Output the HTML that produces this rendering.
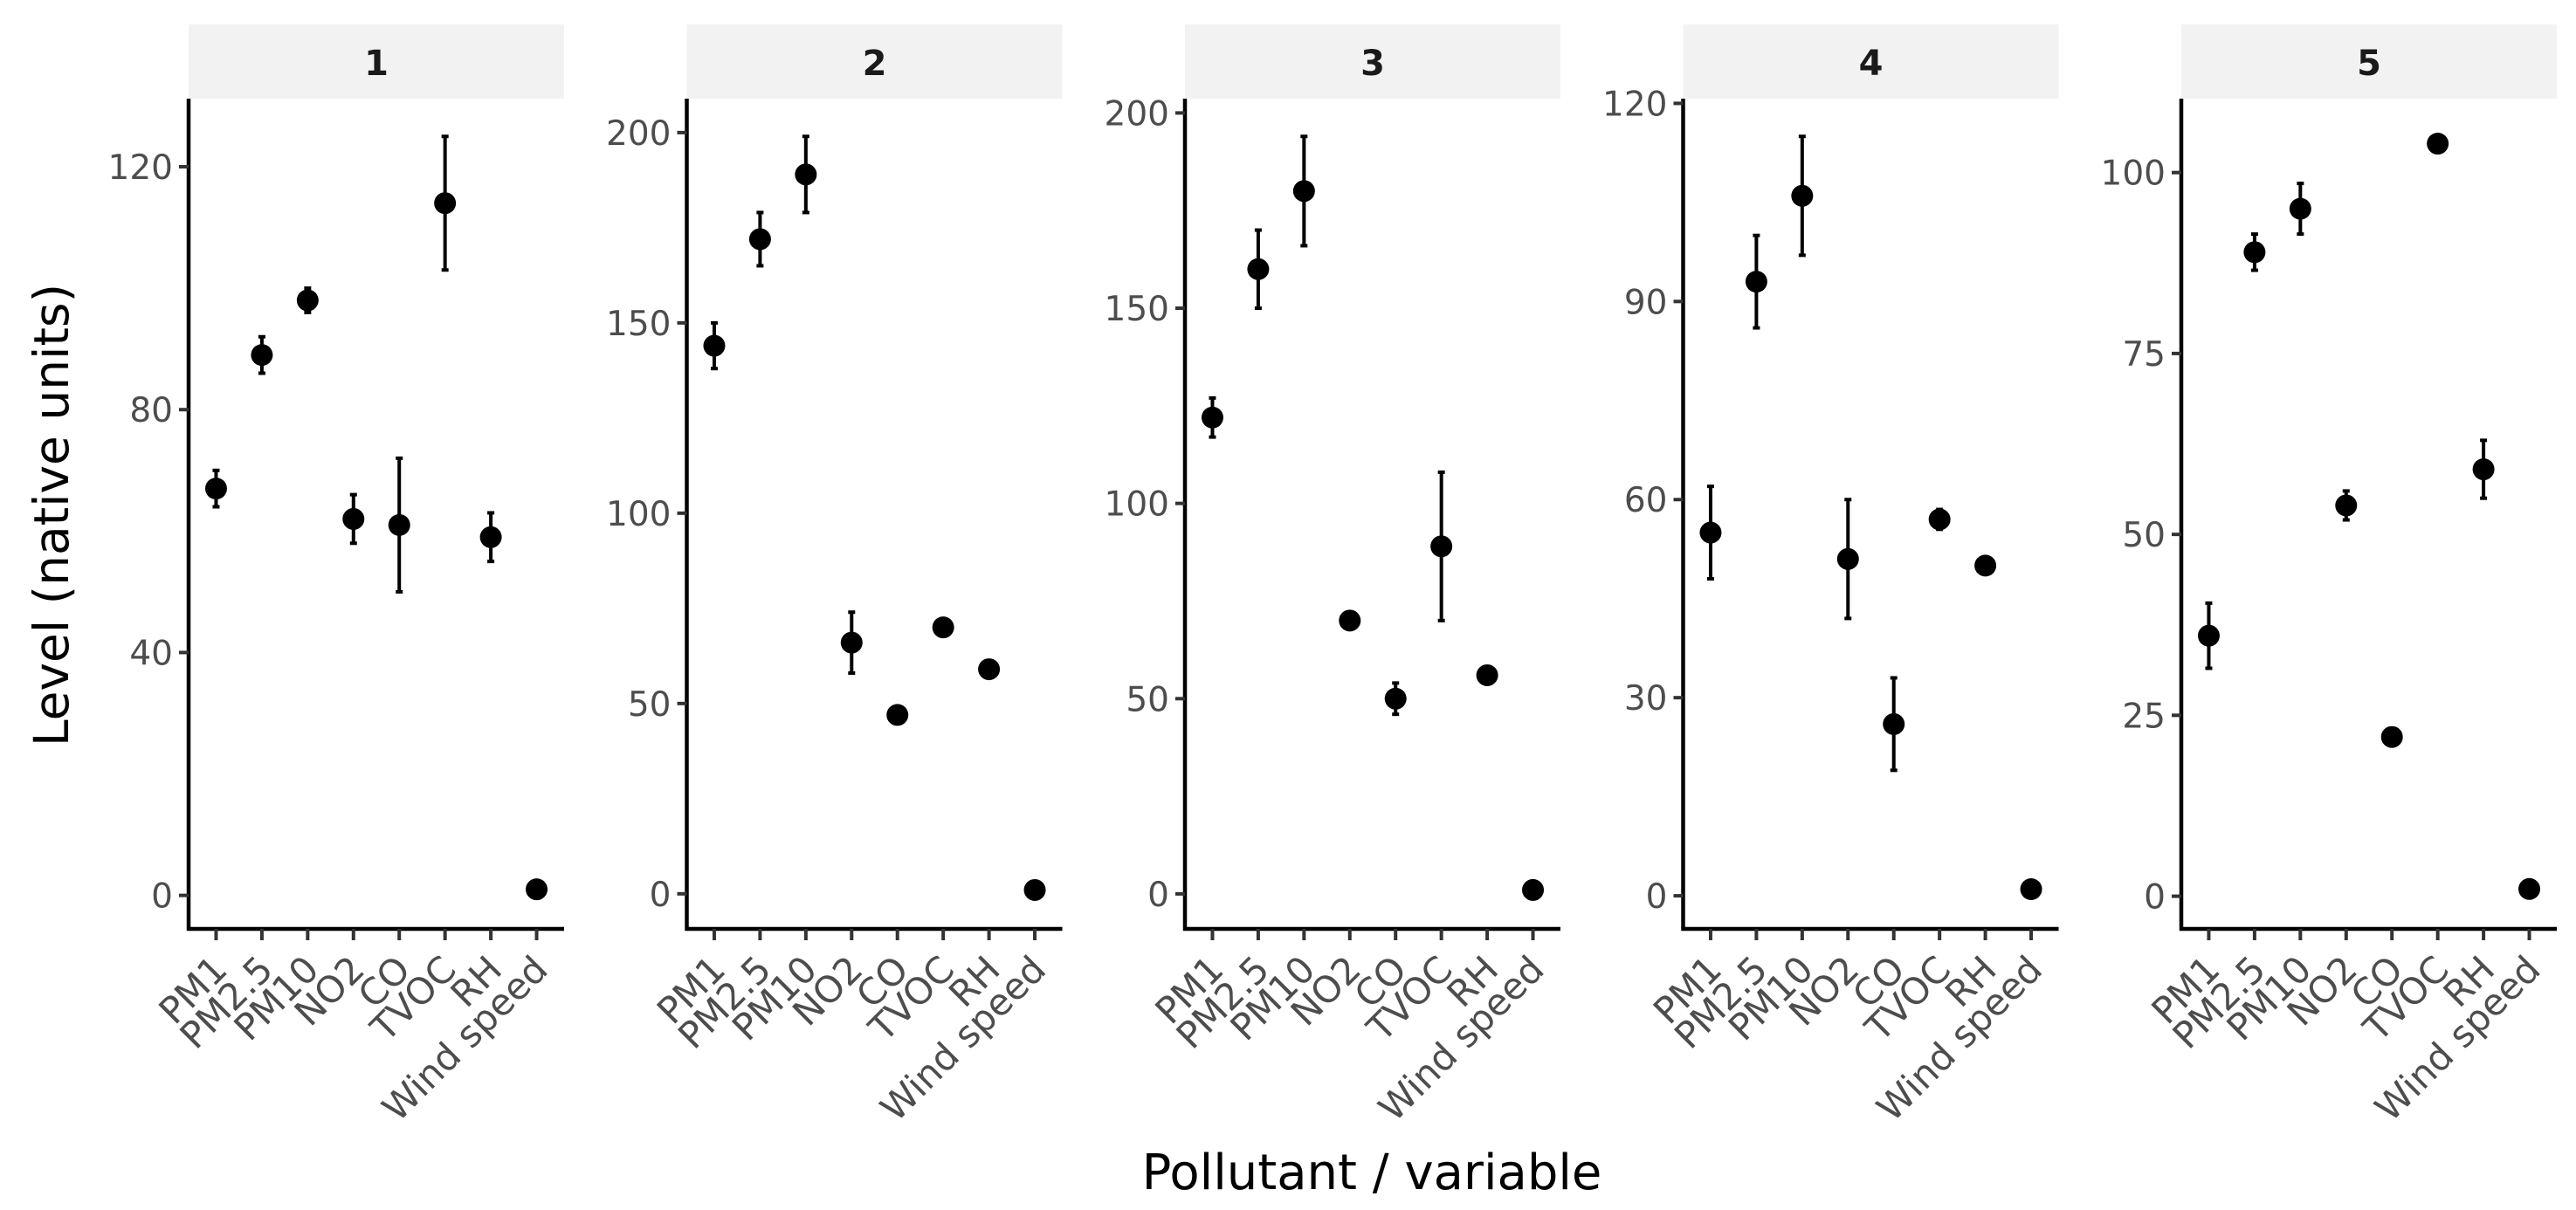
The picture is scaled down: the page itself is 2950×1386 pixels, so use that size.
<!DOCTYPE html>
<html><head><meta charset="utf-8"><style>
html,body{margin:0;padding:0;background:#fff;}
svg{display:block;font-family:"DejaVu Sans","Liberation Sans",sans-serif;}
</style></head><body>
<svg id="chart" width="2950" height="1386" viewBox="0 0 2950 1386" xmlns="http://www.w3.org/2000/svg">
<rect width="2950" height="1386" fill="#fff"/>
<text x="0" y="0" transform="translate(78,590) rotate(-90)" text-anchor="middle" font-size="55" fill="#000">Level (native units)</text>
<text x="1571" y="1362" text-anchor="middle" font-size="56" fill="#000">Pollutant / variable</text>
<g id="panels"></g>
</svg>
<script>
const categories = ["PM1","PM2.5","PM10","NO2","CO","TVOC","RH","Wind speed"];
const panelNames = ["1","2","3","4","5"];
const values1 = [67,89,98,62,61,114,59,1];
const errors1 = [3,3,2,4,11,11,4,0.3];
const values2 = [144,172,189,66,47,70,59,1];
const errors2 = [6,7,10,8,2,2,2,0.3];
const values3 = [122,160,180,70,50,89,56,1];
const errors3 = [5,10,14,2,4,19,2,0.3];
const values4 = [55,93,106,51,26,57,50,1];
const errors4 = [7,7,9,9,7,1.5,1,0.3];
const values5 = [36,89,95,54,22,104,59,1];
const errors5 = [4.5,2.5,3.5,2,1,1,4,0.3];
const ticks1 = [0,40,80,120];
const ticks2 = [0,50,100,150,200];
const ticks3 = [0,50,100,150,200];
const ticks4 = [0,30,60,90,120];
const ticks5 = [0,25,50,75,100];

const allValues=[values1,values2,values3,values4,values5];
const allErrors=[errors1,errors2,errors3,errors4,errors5];
const allTicks=[ticks1,ticks2,ticks3,ticks4,ticks5];
const NS="http://www.w3.org/2000/svg";
const root=document.getElementById('panels');
function mk(tag,attrs,parent){const e=document.createElementNS(NS,tag);for(const k in attrs)e.setAttribute(k,attrs[k]);parent.appendChild(e);return e;}
const panelLeft0=216, panelStep=570.5, panelW=430, plotTop=113, plotBottom=1064;
for(let p=0;p<panelNames.length;p++){
  const vals=allValues[p], errs=allErrors[p], ticks=allTicks[p];
  const L=panelLeft0+p*panelStep;
  let lo=Infinity,hi=-Infinity;
  vals.forEach((v,i)=>{lo=Math.min(lo,v-errs[i]);hi=Math.max(hi,v+errs[i]);});
  const pad=(hi-lo)*0.05; const d0=lo-pad, d1=hi+pad;
  const y=v=>plotBottom-(v-d0)/(d1-d0)*(plotBottom-plotTop);
  const bw=panelW/(categories.length-1+1.2);
  const x=i=>L+bw*(0.6+i);
  const g=mk('g',{},root);
  
  
  const strip=mk('rect',{x:L,y:28,width:panelW,height:85,fill:'#f2f2f2'},g);
  
  
  const st=mk('text',{x:L+panelW/2,y:86,'text-anchor':'middle','font-size':40,'font-weight':'bold',fill:'#1a1a1a'},g);
  st.textContent=panelNames[p];
  
  
  const ya=mk('line',{x1:L,y1:plotTop,x2:L,y2:plotBottom+2,stroke:'#000','stroke-width':4.5},g);
  
  
  const xa=mk('line',{x1:L-2,y1:plotBottom,x2:L+panelW,y2:plotBottom,stroke:'#000','stroke-width':4.5},g);
  
  
  ticks.forEach(t=>{
    const ty=y(t);
    const tk=mk('line',{x1:L-11,y1:ty,x2:L,y2:ty,stroke:'#333','stroke-width':4},g);
    
    
    const tl=mk('text',{x:L-18,y:ty+14,'text-anchor':'end','font-size':39,fill:'#4d4d4d'},g);
    tl.textContent=t;
    
    
  });
  categories.forEach((c,i)=>{
    const cx=x(i);
    const tk=mk('line',{x1:cx,y1:plotBottom,x2:cx,y2:plotBottom+13,stroke:'#333','stroke-width':4},g);
    
    
    const tl=mk('text',{x:0,y:0,'text-anchor':'end','font-size':42,fill:'#4d4d4d',transform:`translate(${cx+15},${plotBottom+49}) rotate(-45)`},g);
    tl.textContent=c;
    
    
    const v=vals[i], e=errs[i];
    const eb=mk('g',{stroke:'#000','stroke-width':4},g);
    
    
    mk('line',{x1:cx,y1:y(v+e),x2:cx,y2:y(v-e)},eb);
    mk('line',{x1:cx-4,y1:y(v+e),x2:cx+4,y2:y(v+e)},eb);
    mk('line',{x1:cx-4,y1:y(v-e),x2:cx+4,y2:y(v-e)},eb);
    const pt=mk('circle',{cx:cx,cy:y(v),r:12.5,fill:'#000'},g);
    
    
  });
}
</script>
</body></html>
